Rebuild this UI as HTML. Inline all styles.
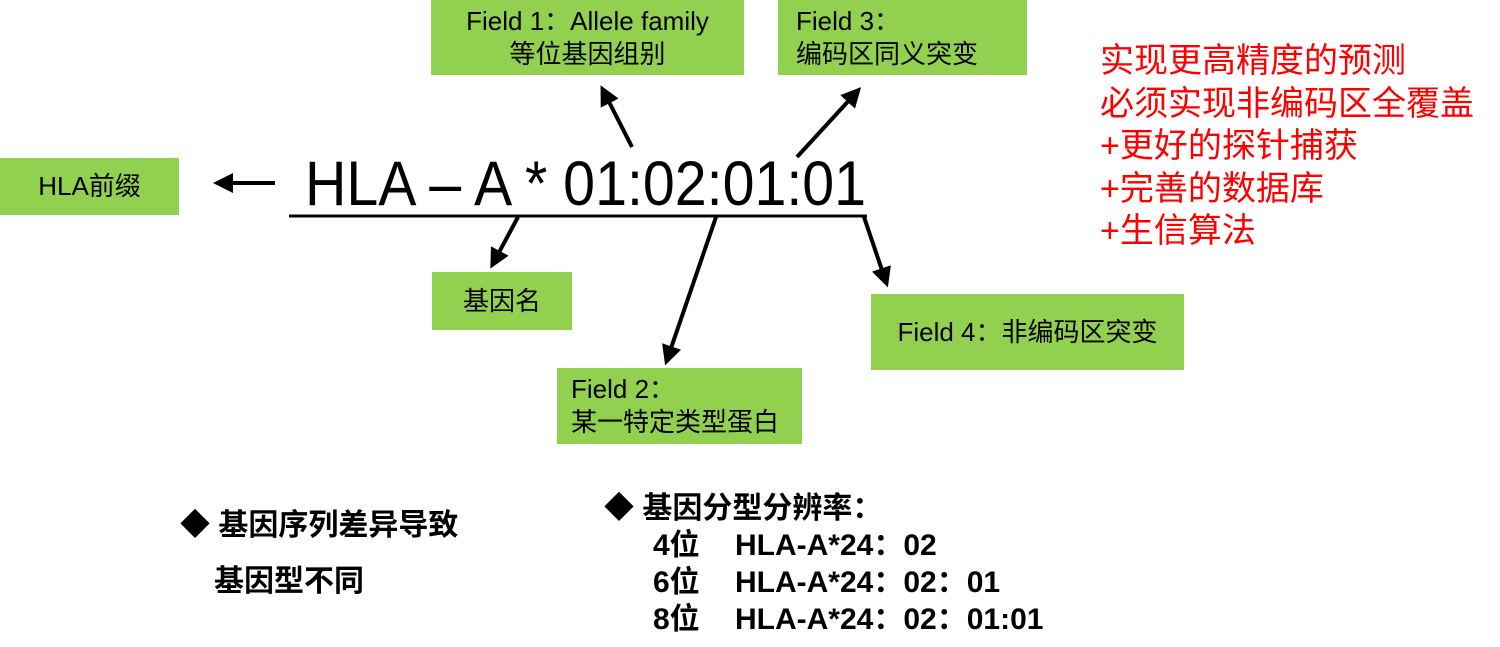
<!DOCTYPE html>
<html><head><meta charset="utf-8"><style>
body{margin:0;width:1500px;height:647px;background:#fff;position:relative;overflow:hidden;font-family:"Liberation Sans","Noto Sans CJK SC",sans-serif;color:#000}
.b{position:absolute;background:#92d050;display:flex;flex-direction:column;align-items:center;justify-content:center;font-size:26px;line-height:33px;text-align:center}
.t{position:absolute;white-space:nowrap}
.bold{font-weight:bold;font-size:30px;line-height:37px}
</style></head><body>
<div class="b" style="left:431px;top:0;width:313px;height:75px"><div>Field 1：Allele family</div><div>等位基因组别</div></div>
<div class="b" style="left:778px;top:0;width:249px;height:75px;align-items:flex-start;padding-left:18px;box-sizing:border-box;text-align:left"><div>Field 3：</div><div>编码区同义突变</div></div>
<div class="b" style="left:0;top:158px;width:179px;height:57px">HLA前缀</div>
<div class="b" style="left:432px;top:272px;width:140px;height:58px">基因名</div>
<div class="b" style="left:557px;top:368px;width:245px;height:76px;align-items:flex-start;padding-left:14px;box-sizing:border-box;text-align:left"><div>Field 2：</div><div>某一特定类型蛋白</div></div>
<div class="b" style="left:871px;top:294px;width:313px;height:76px">Field 4：非编码区突变</div>
<div class="t" style="left:305px;top:148px;font-size:63px;line-height:72px;transform:scaleX(0.91);transform-origin:0 0">HLA – A * 01:02:01:01</div>
<svg width="1500" height="647" style="position:absolute;left:0;top:0">
<defs><marker id="a" markerWidth="5" markerHeight="5" refX="2" refY="2.5" orient="auto"><path d="M0,0L5,2.5L0,5z" fill="#000"/></marker></defs>
<line x1="289" y1="216" x2="867" y2="216" stroke="#000" stroke-width="3"/>
<g stroke="#000" stroke-width="4" marker-end="url(#a)">
<line x1="275" y1="183" x2="225" y2="183"/>
<line x1="632" y1="147" x2="606" y2="96"/>
<line x1="797" y1="157" x2="853" y2="96"/>
<line x1="518" y1="217" x2="496" y2="258"/>
<line x1="716" y1="217" x2="669" y2="354"/>
<line x1="864" y1="217" x2="884" y2="276"/>
</g></svg>
<div class="t" style="left:1100px;top:40px;font-size:34px;line-height:42.5px;color:#ff0000">实现更高精度的预测<br>必须实现非编码区全覆盖<br>+更好的探针捕获<br>+完善的数据库<br>+生信算法</div>
<div class="t bold" style="left:180px;top:507px">◆ 基因序列差异导致</div>
<div class="t bold" style="left:214px;top:563px">基因型不同</div>
<div class="t bold" style="left:604px;top:490px">◆ 基因分型分辨率：</div>
<div class="t bold" style="left:653px;top:527px">4位</div>
<div class="t bold" style="left:653px;top:564px">6位</div>
<div class="t bold" style="left:653px;top:601px">8位</div>
<div class="t bold" style="left:735px;top:527px">HLA-A*24：02</div>
<div class="t bold" style="left:735px;top:564px">HLA-A*24：02：01</div>
<div class="t bold" style="left:735px;top:601px">HLA-A*24：02：01:01</div>
</body></html>
